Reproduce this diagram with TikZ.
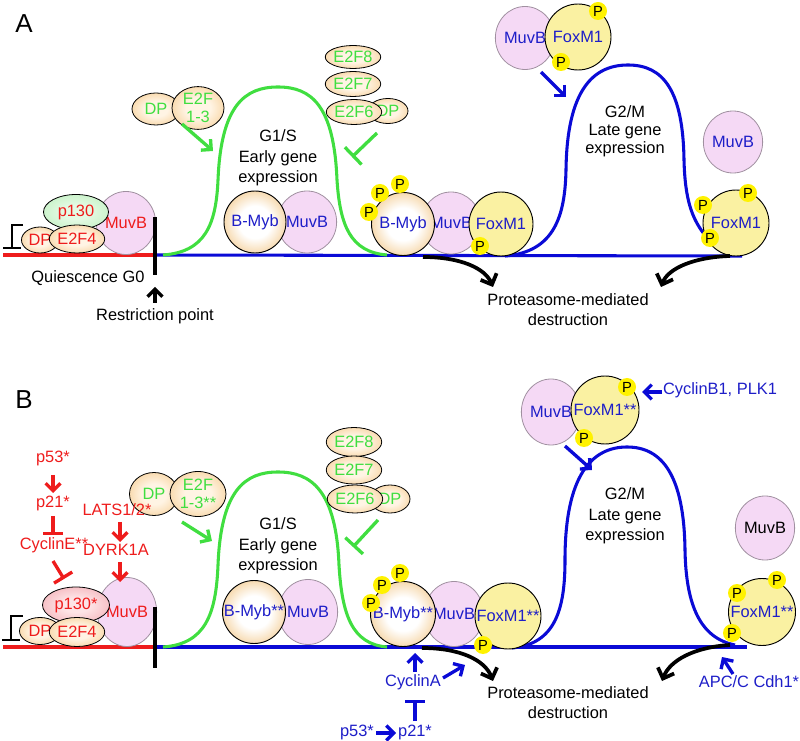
\documentclass[tikz,border=0pt]{standalone}
\usepackage{fontspec}
\setmainfont{Liberation Sans}
\usetikzlibrary{shapes.geometric,arrows.meta}
\definecolor{cred}{HTML}{EE1C1C}
\definecolor{cgreen}{HTML}{40DE40}
\definecolor{cblue}{HTML}{0A0AD6}
\definecolor{ctblue}{HTML}{1E1EC8}
\definecolor{mpink}{HTML}{F5D9F5}
\definecolor{mborder}{HTML}{A090A0}
\definecolor{fyel}{HTML}{FAF1A2}
\definecolor{pyel}{HTML}{FFF200}
\definecolor{orin}{HTML}{FFF4E4}
\definecolor{orout}{HTML}{F5C98A}
\definecolor{bmout}{HTML}{F0BC70}
\definecolor{pgin}{HTML}{E4FAE4}
\definecolor{pgout}{HTML}{BDEFBD}
\definecolor{prin}{HTML}{FDE4E6}
\definecolor{prout}{HTML}{F2AAB2}
\pgfdeclareradialshading{orshade}{\pgfpoint{0bp}{0bp}}{color(0bp)=(orin); color(12bp)=(orin); color(35bp)=(orout); color(50bp)=(orout)}
\pgfdeclareradialshading{bmshade}{\pgfpoint{0bp}{0bp}}{color(0bp)=(white); color(13bp)=(white); color(35bp)=(bmout); color(50bp)=(bmout)}
\pgfdeclareradialshading{pgshade}{\pgfpoint{0bp}{0bp}}{color(0bp)=(pgin); color(10bp)=(pgin); color(35bp)=(pgout); color(50bp)=(pgout)}
\pgfdeclareradialshading{prshade}{\pgfpoint{0bp}{0bp}}{color(0bp)=(prin); color(10bp)=(prin); color(35bp)=(prout); color(50bp)=(prout)}
\tikzset{
 sz/.style 2 args={minimum width=#1*0.75pt, minimum height=#2*0.75pt},
 txt/.style={font=\fontsize{12.3}{14}\selectfont, inner sep=0pt},
 muvb/.style={ellipse, draw=mborder, fill=mpink, line width=0.6pt, txt},
 orell/.style={ellipse, draw=black, line width=0.6pt, shading=orshade, txt},
 bmyb/.style={circle, draw=black, line width=0.7pt, shading=bmshade, txt},
 fox/.style={circle, draw=black, line width=0.7pt, fill=fyel, txt},
 pp/.style={circle, fill=pyel, inner sep=0pt, minimum size=13.5pt, font=\fontsize{11}{12}\selectfont},
 phase/.style={txt, align=center, font=\fontsize{12.3}{15.4}\selectfont},
 baseln/.style={line width=2.3pt},
 arr/.style={line width=2.5pt, -{Straight Barb[length=5.5pt,width=11pt]}},
 inh/.style={line width=2.5pt, -{Bar[width=15pt]}},
 blk/.style={line width=2.8pt, -{Straight Barb[length=6.5pt,width=13pt]}},
 lbl/.style={inner sep=0pt, font=\fontsize{19.5}{20}\selectfont}
}
\begin{document}
\begin{tikzpicture}[x=0.75pt,y=-0.75pt]
\useasboundingbox (0,0) rectangle (800,741);
% ================= PANEL A =================
\node[lbl] (labA) at (24,24) {A};
\draw[baseln, cred] (3,255) -- (155,255);
\draw[baseln, cblue] (155,255) -- (742,256);
\draw[baseln, cgreen] (163,255) .. controls (205,252) and (216,225) .. (218,180) .. controls (221,105) and (245,87) .. (278,87) .. controls (311,87) and (334,105) .. (337,180) .. controls (340,225) and (350,252) .. (387,255);
\draw[baseln, cblue] (505,256) .. controls (555,252) and (565,215) .. (566,170) .. controls (567,90) and (593,65) .. (628,65) .. controls (663,65) and (683,90) .. (684,160) .. controls (685,200) and (692,218) .. (704,234);
% left complex
\node[muvb, sz={52}{63}, text=cred] (mvA0) at (126,223) {MuvB};
\node[ellipse, draw=black, line width=0.6pt, shading=pgshade, sz={65}{35}, txt, text=cred] (p130A) at (76,212) {p130};
\node[orell, sz={37}{26}, text=cred] (dpA0) at (40,240) {DP};
\node[orell, sz={45}{28}, text=cred] (e24A) at (77,239) {E2F4};
% DP / E2F1-3
\node[orell, sz={48}{32}, text=cgreen] (dpA) at (156,109) {DP};
\node[orell, sz={52}{36}, text=cgreen, align=center] (e2fA) at (198,108) {E2F\\1-3};
% E2F stack
\node[orell, sz={40}{25}, text=cgreen] (dp6A) at (388,111) {DP};
\node[orell, sz={43}{23}, text=cgreen] (e8A) at (353,57) {E2F8};
\node[orell, sz={43}{25}, text=cgreen] (e7A) at (353,84) {E2F7};
\node[orell, sz={45}{25}, text=cgreen] (e6A) at (354,112) {E2F6};
% G1/S
\node[phase] (g1A) at (278,158) {G1/S\\Early gene\\expression};
\node[muvb, sz={50}{62}, text=ctblue] (mvA1) at (307,222) {MuvB};
\node[bmyb, minimum size=62*0.75pt, text=ctblue] (bmA1) at (255,222) {B-Myb};
% right group
\node[muvb, sz={48}{62}, text=ctblue] (mvA2) at (451,223) {MuvB};
\node[bmyb, minimum size=63*0.75pt, text=ctblue] (bmA2) at (403,224) {B-Myb};
\node[fox, minimum size=64*0.75pt, text=ctblue] (fxA2) at (501,224) {FoxM1};
\node[pp] (pA1) at (369,212) {P};
\node[pp] (pA2) at (380,193) {P};
\node[pp] (pA3) at (400,184) {P};
\node[pp] (pA4) at (480,246) {P};
% top FoxM1
\node[muvb, sz={53}{63}, text=ctblue] (mvA3) at (525,38) {MuvB};
\node[fox, minimum size=66*0.75pt, text=ctblue] (fxA3) at (578,37) {FoxM1};
\node[pp] (pA5) at (598,11) {P};
\node[pp] (pA6) at (561,62) {P};
% G2/M
\node[txt, align=center, font=\fontsize{12.3}{13.6}\selectfont] (g2A) at (625,131) {G2/M\\Late gene\\expression};
\node[muvb, sz={53}{62}, text=ctblue] (mvA4) at (733,142) {MuvB};
\node[fox, minimum size=66*0.75pt, text=ctblue] (fxA4) at (736,223) {FoxM1};
\node[pp] (pA7) at (748,193) {P};
\node[pp] (pA8) at (703,205) {P};
\node[pp] (pA9) at (710,238) {P};
% texts
\node[txt] (qA) at (88,278) {Quiescence G0};
\node[txt] (rpA) at (155,316) {Restriction point};
\node[txt, align=center, font=\fontsize{12.3}{15}\selectfont] (prA) at (568,310) {Proteasome-mediated\\destruction};
% bar, bracket, arrows
\coordinate (barAt) at (155,217); \coordinate (barAb) at (155,275);
\draw[line width=2.8pt] (barAt) -- (barAb);
\coordinate (brA1) at (23,225); \coordinate (brA2) at (12,225); \coordinate (brA3) at (12,248);
\coordinate (brA4) at (3,248); \coordinate (brA5) at (21,248);
\draw[line width=2pt] (brA1) -- (brA2) -- (brA3);
\draw[line width=2pt] (brA4) -- (brA5);
\coordinate (rpAs) at (155,303); \coordinate (rpAe) at (155,287);
\draw[arr, black] (rpAs) -- (rpAe);
\coordinate (gaAs) at (182,124); \coordinate (gaAe) at (213,151);
\draw[arr, cgreen] (gaAs) -- (gaAe);
\coordinate (giAs) at (377,133); \coordinate (giAe) at (352,157);
\draw[inh, cgreen, -{Bar[width=18pt]}] (giAs) -- (giAe);
\coordinate (baAs) at (541,72); \coordinate (baAe) at (566,97);
\draw[arr, cblue] (baAs) -- (baAe);
\coordinate (bkA1s) at (423,257); \coordinate (bkA1e) at (493,287);
\draw[blk] (bkA1s) .. controls (460,257) and (485,268) .. (bkA1e);
\coordinate (bkA2s) at (730,256); \coordinate (bkA2e) at (661,287);
\draw[blk] (bkA2s) .. controls (695,257) and (668,268) .. (bkA2e);
% ================= PANEL B =================
\node[lbl] (labB) at (24,400) {B};
\draw[baseln, cred] (3,647) -- (155,647);
\draw[baseln, cblue] (155,647) -- (747,647);
\draw[baseln, cgreen] (163,647) .. controls (205,644) and (216,615) .. (218,565) .. controls (221,490) and (245,472) .. (278,472) .. controls (311,472) and (336,490) .. (339,565) .. controls (342,615) and (352,644) .. (387,647);
\draw[baseln, cblue] (512,648) .. controls (555,644) and (565,610) .. (565,560) .. controls (565,475) and (592,447) .. (627,447) .. controls (662,447) and (684,475) .. (685,550) .. controls (686,605) and (700,638) .. (735,645);
% left complex
\node[muvb, sz={53}{69}, text=cred] (mvB0) at (127,612) {MuvB};
\node[ellipse, draw=black, line width=0.6pt, shading=prshade, sz={67}{36}, txt, text=cred] (p130B) at (76,605) {p130*};
\node[orell, sz={41}{27}, text=cred] (dpB0) at (40,631) {DP};
\node[orell, sz={45}{29}, text=cred] (e24B) at (77,632) {E2F4};
% DP / E2F1-3**
\node[orell, sz={49}{43}, text=cgreen] (dpB) at (154,494) {DP};
\node[orell, sz={56}{45}, text=cgreen, align=center] (e2fB) at (198,494) {E2F\\1-3**};
% red regulators
\node[txt, text=cred] (p53r) at (53,458) {p53*};
\node[txt, text=cred] (p21r) at (53,503) {p21*};
\node[txt, text=cred] (cycE) at (54,545) {CyclinE**};
\node[txt, text=cred] (lats) at (117,510) {LATS1/2*};
\node[txt, text=cred] (dyrk) at (116,550) {DYRK1A};
\coordinate (r1s) at (53,475); \coordinate (r1e) at (53,493);
\draw[arr, cred] (r1s) -- (r1e);
\coordinate (r2s) at (53,516); \coordinate (r2e) at (53,535);
\draw[inh, cred] (r2s) -- (r2e);
\coordinate (r3s) at (53,561); \coordinate (r3e) at (64,579);
\draw[inh, cred, -{Bar[width=16pt]}] (r3s) -- (r3e);
\coordinate (r4s) at (120,522); \coordinate (r4e) at (120,542);
\draw[arr, cred] (r4s) -- (r4e);
\coordinate (r5s) at (120,562); \coordinate (r5e) at (120,582);
\draw[arr, cred] (r5s) -- (r5e);
% E2F stack
\node[orell, sz={40}{28}, text=cgreen] (dp6B) at (390,499) {DP};
\node[orell, sz={45}{29}, text=cgreen] (e8B) at (354,442) {E2F8};
\node[orell, sz={45}{28}, text=cgreen] (e7B) at (354,470) {E2F7};
\node[orell, sz={46}{28}, text=cgreen] (e6B) at (355,499) {E2F6};
% G1/S
\node[phase] (g1B) at (278,546) {G1/S\\Early gene\\expression};
\node[muvb, sz={50}{65}, text=ctblue] (mvB1) at (308,612) {MuvB};
\node[bmyb, minimum size=63*0.75pt, text=ctblue] (bmB1) at (254,612) {B-Myb**};
% right group
\node[muvb, sz={46}{65}, text=ctblue] (mvB2) at (454,614) {MuvB};
\node[bmyb, minimum size=65*0.75pt, text=ctblue] (bmB2) at (403,614) {B-Myb**};
\node[fox, minimum size=66*0.75pt, text=ctblue] (fxB2) at (508,616) {FoxM1**};
\node[pp] (pB1) at (371,603) {P};
\node[pp] (pB2) at (382,585) {P};
\node[pp] (pB3) at (400,573) {P};
\node[pp] (pB4) at (483,645) {P};
% top FoxM1**
\node[muvb, sz={53}{66}, text=ctblue] (mvB3) at (551,412) {MuvB};
\node[fox, minimum size=68*0.75pt, text=ctblue] (fxB3) at (605,410) {FoxM1**};
\node[pp] (pB5) at (627,387) {P};
\node[pp] (pB6) at (584,438) {P};
\node[txt, text=ctblue] (cycB) at (720,390) {CyclinB1, PLK1};
\coordinate (cbs) at (662,392); \coordinate (cbe) at (642,392);
\draw[arr, cblue] (cbs) -- (cbe);
% G2/M
\node[phase] (g2B) at (625,516) {G2/M\\Late gene\\expression};
\node[muvb, sz={54}{64}, text=black] (mvB4) at (765,528) {MuvB};
\node[fox, minimum size=67*0.75pt, text=ctblue] (fxB4) at (762,612) {FoxM1**};
\node[pp] (pB7) at (777,580) {P};
\node[pp] (pB8) at (737,593) {P};
\node[pp] (pB9) at (732,633) {P};
% texts
\node[txt, align=center, font=\fontsize{12.3}{15}\selectfont] (prB) at (568,703) {Proteasome-mediated\\destruction};
\node[txt, text=ctblue] (apc) at (749,682) {APC/C Cdh1*};
\node[txt, text=ctblue] (cycA) at (413,682) {CyclinA};
\node[txt, text=ctblue] (p21b) at (415,732) {p21*};
\node[txt, text=ctblue] (p53b) at (357,732) {p53*};
% bar, bracket, arrows
\coordinate (barBt) at (155,607); \coordinate (barBb) at (155,668);
\draw[line width=2.8pt] (barBt) -- (barBb);
\coordinate (brB1) at (23,616); \coordinate (brB2) at (11,616); \coordinate (brB3) at (11,640);
\coordinate (brB4) at (2,640); \coordinate (brB5) at (20,640);
\draw[line width=2pt] (brB1) -- (brB2) -- (brB3);
\draw[line width=2pt] (brB4) -- (brB5);
\coordinate (gaBs) at (182,522); \coordinate (gaBe) at (212,541);
\draw[arr, cgreen] (gaBs) -- (gaBe);
\coordinate (giBs) at (378,520); \coordinate (giBe) at (353,547);
\draw[inh, cgreen, -{Bar[width=18pt]}] (giBs) -- (giBe);
\coordinate (baBs) at (565,446); \coordinate (baBe) at (592,470);
\draw[arr, cblue] (baBs) -- (baBe);
\coordinate (b1s) at (415,672); \coordinate (b1e) at (415,653);
\draw[arr, cblue] (b1s) -- (b1e);
\coordinate (b2s) at (443,678); \coordinate (b2e) at (465,665);
\draw[arr, cblue] (b2s) -- (b2e);
\coordinate (b3s) at (415,721); \coordinate (b3e) at (415,700);
\draw[inh, cblue] (b3s) -- (b3e);
\coordinate (b4s) at (376,733); \coordinate (b4e) at (396,733);
\draw[arr, cblue] (b4s) -- (b4e);
\coordinate (b5s) at (733,674); \coordinate (b5e) at (722,657);
\draw[arr, cblue] (b5s) -- (b5e);
\coordinate (bkB1s) at (422,648); \coordinate (bkB1e) at (493,681);
\draw[blk] (bkB1s) .. controls (460,648) and (485,660) .. (bkB1e);
\coordinate (bkB2s) at (730,645); \coordinate (bkB2e) at (662,681);
\draw[blk] (bkB2s) .. controls (695,647) and (670,660) .. (bkB2e);
\end{tikzpicture}
\end{document}
